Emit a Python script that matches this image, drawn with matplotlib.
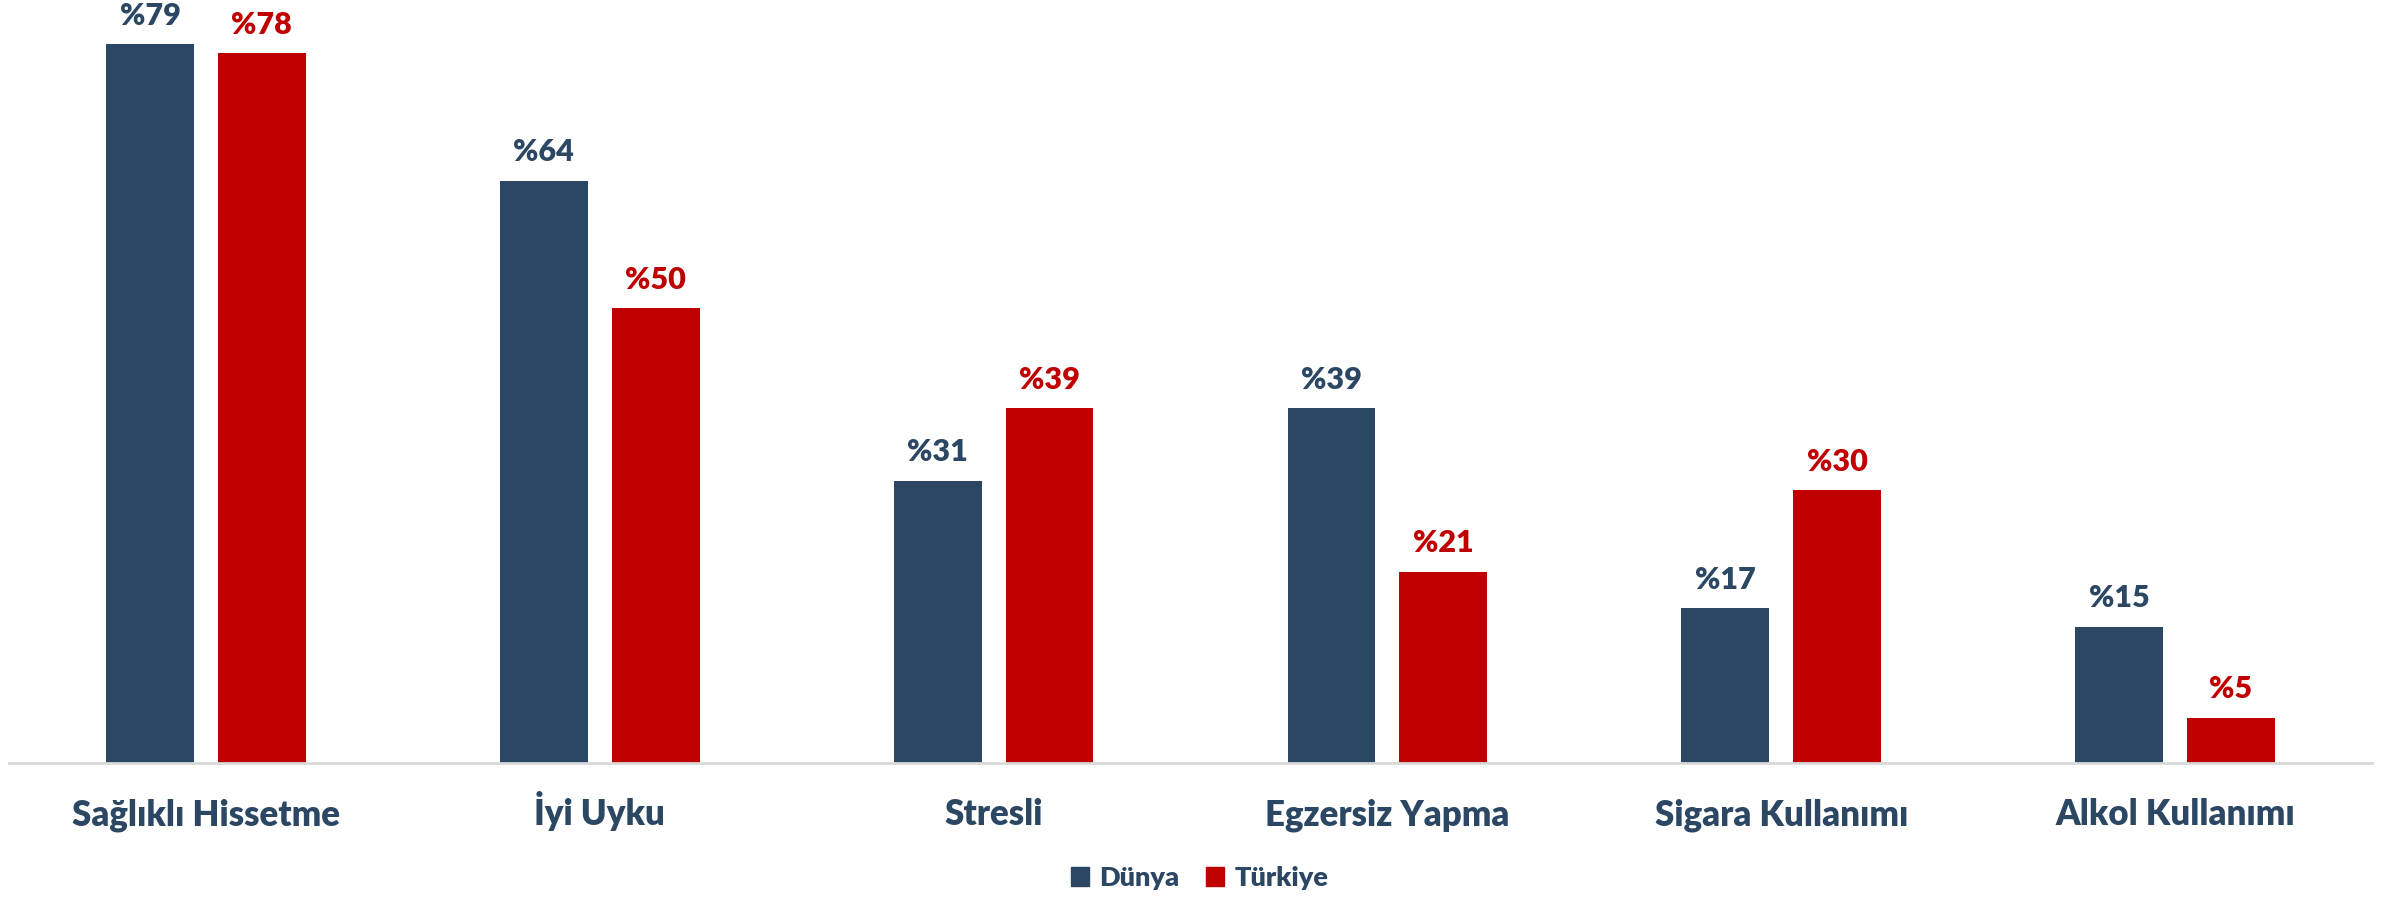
import numpy as np
import matplotlib
matplotlib.use("Agg")
from matplotlib import pyplot as plt
from matplotlib.patches import Patch
from matplotlib.transforms import blended_transform_factory

categories = ["Sağlıklı Hissetme", "İyi Uyku", "Stresli", "Egzersiz Yapma",
              "Sigara Kullanımı", "Alkol Kullanımı"]
series_names = ["Dünya", "Türkiye"]
dunya = [79, 64, 31, 39, 17, 15]
turkiye = [78, 50, 39, 21, 30, 5]

NAVY = "#2B4763"
RED = "#C00000"
WEIGHT = "heavy"

plt.rcParams["font.family"] = ["Lato", "DejaVu Sans"]

fig = plt.figure(figsize=(23.99, 8.98), dpi=100)
W, H = 2399, 898
ax = fig.add_axes([9 / W, (H - 763) / H, (2372 - 9) / W, 763 / H])

x = np.arange(len(categories))
width = 0.223
offset = 0.142
ax.bar(x - offset, dunya, width, color=NAVY, zorder=2)
ax.bar(x + offset, turkiye, width, color=RED, zorder=2)

# value labels above each bar
for xs, vals, col in ((x - offset, dunya, NAVY), (x + offset, turkiye, RED)):
    for xi, v in zip(xs, vals):
        ax.annotate(f"%{v}", (xi, v), xytext=(0, 14), textcoords="offset points",
                    ha="center", va="baseline", fontsize=22, fontweight=WEIGHT, color=col)

ax.set_xlim(-0.5, len(categories) - 0.5)
ax.set_ylim(0, 763 / 9.1)
ax.set_yticks([])
ax.set_xticks(x)
ax.set_xticklabels([])
for s in ("top", "left", "right"):
    ax.spines[s].set_visible(False)
ax.spines["bottom"].set_color("#D9D9D9")
ax.spines["bottom"].set_linewidth(2)
ax.tick_params(axis="x", length=0)

# category names under the axis
tr = blended_transform_factory(ax.transData, fig.transFigure)
for xi, name in zip(x, categories):
    fig.text(xi, (H - 825) / H, name, transform=tr, ha="center", va="baseline",
             fontsize=25, fontweight=WEIGHT, color=NAVY)

handles = [Patch(color=NAVY), Patch(color=RED)]
leg = fig.legend(handles, series_names, loc="center", bbox_to_anchor=(0.5, 1 - 878 / H),
                 ncol=2, frameon=False, fontsize=19.5, handlelength=0.66, handleheight=0.66,
                 handletextpad=0.38, columnspacing=1.0, borderpad=0)
for t in leg.get_texts():
    t.set_color(NAVY)
    t.set_fontweight(WEIGHT)

fig.savefig("out.png", dpi=100)
